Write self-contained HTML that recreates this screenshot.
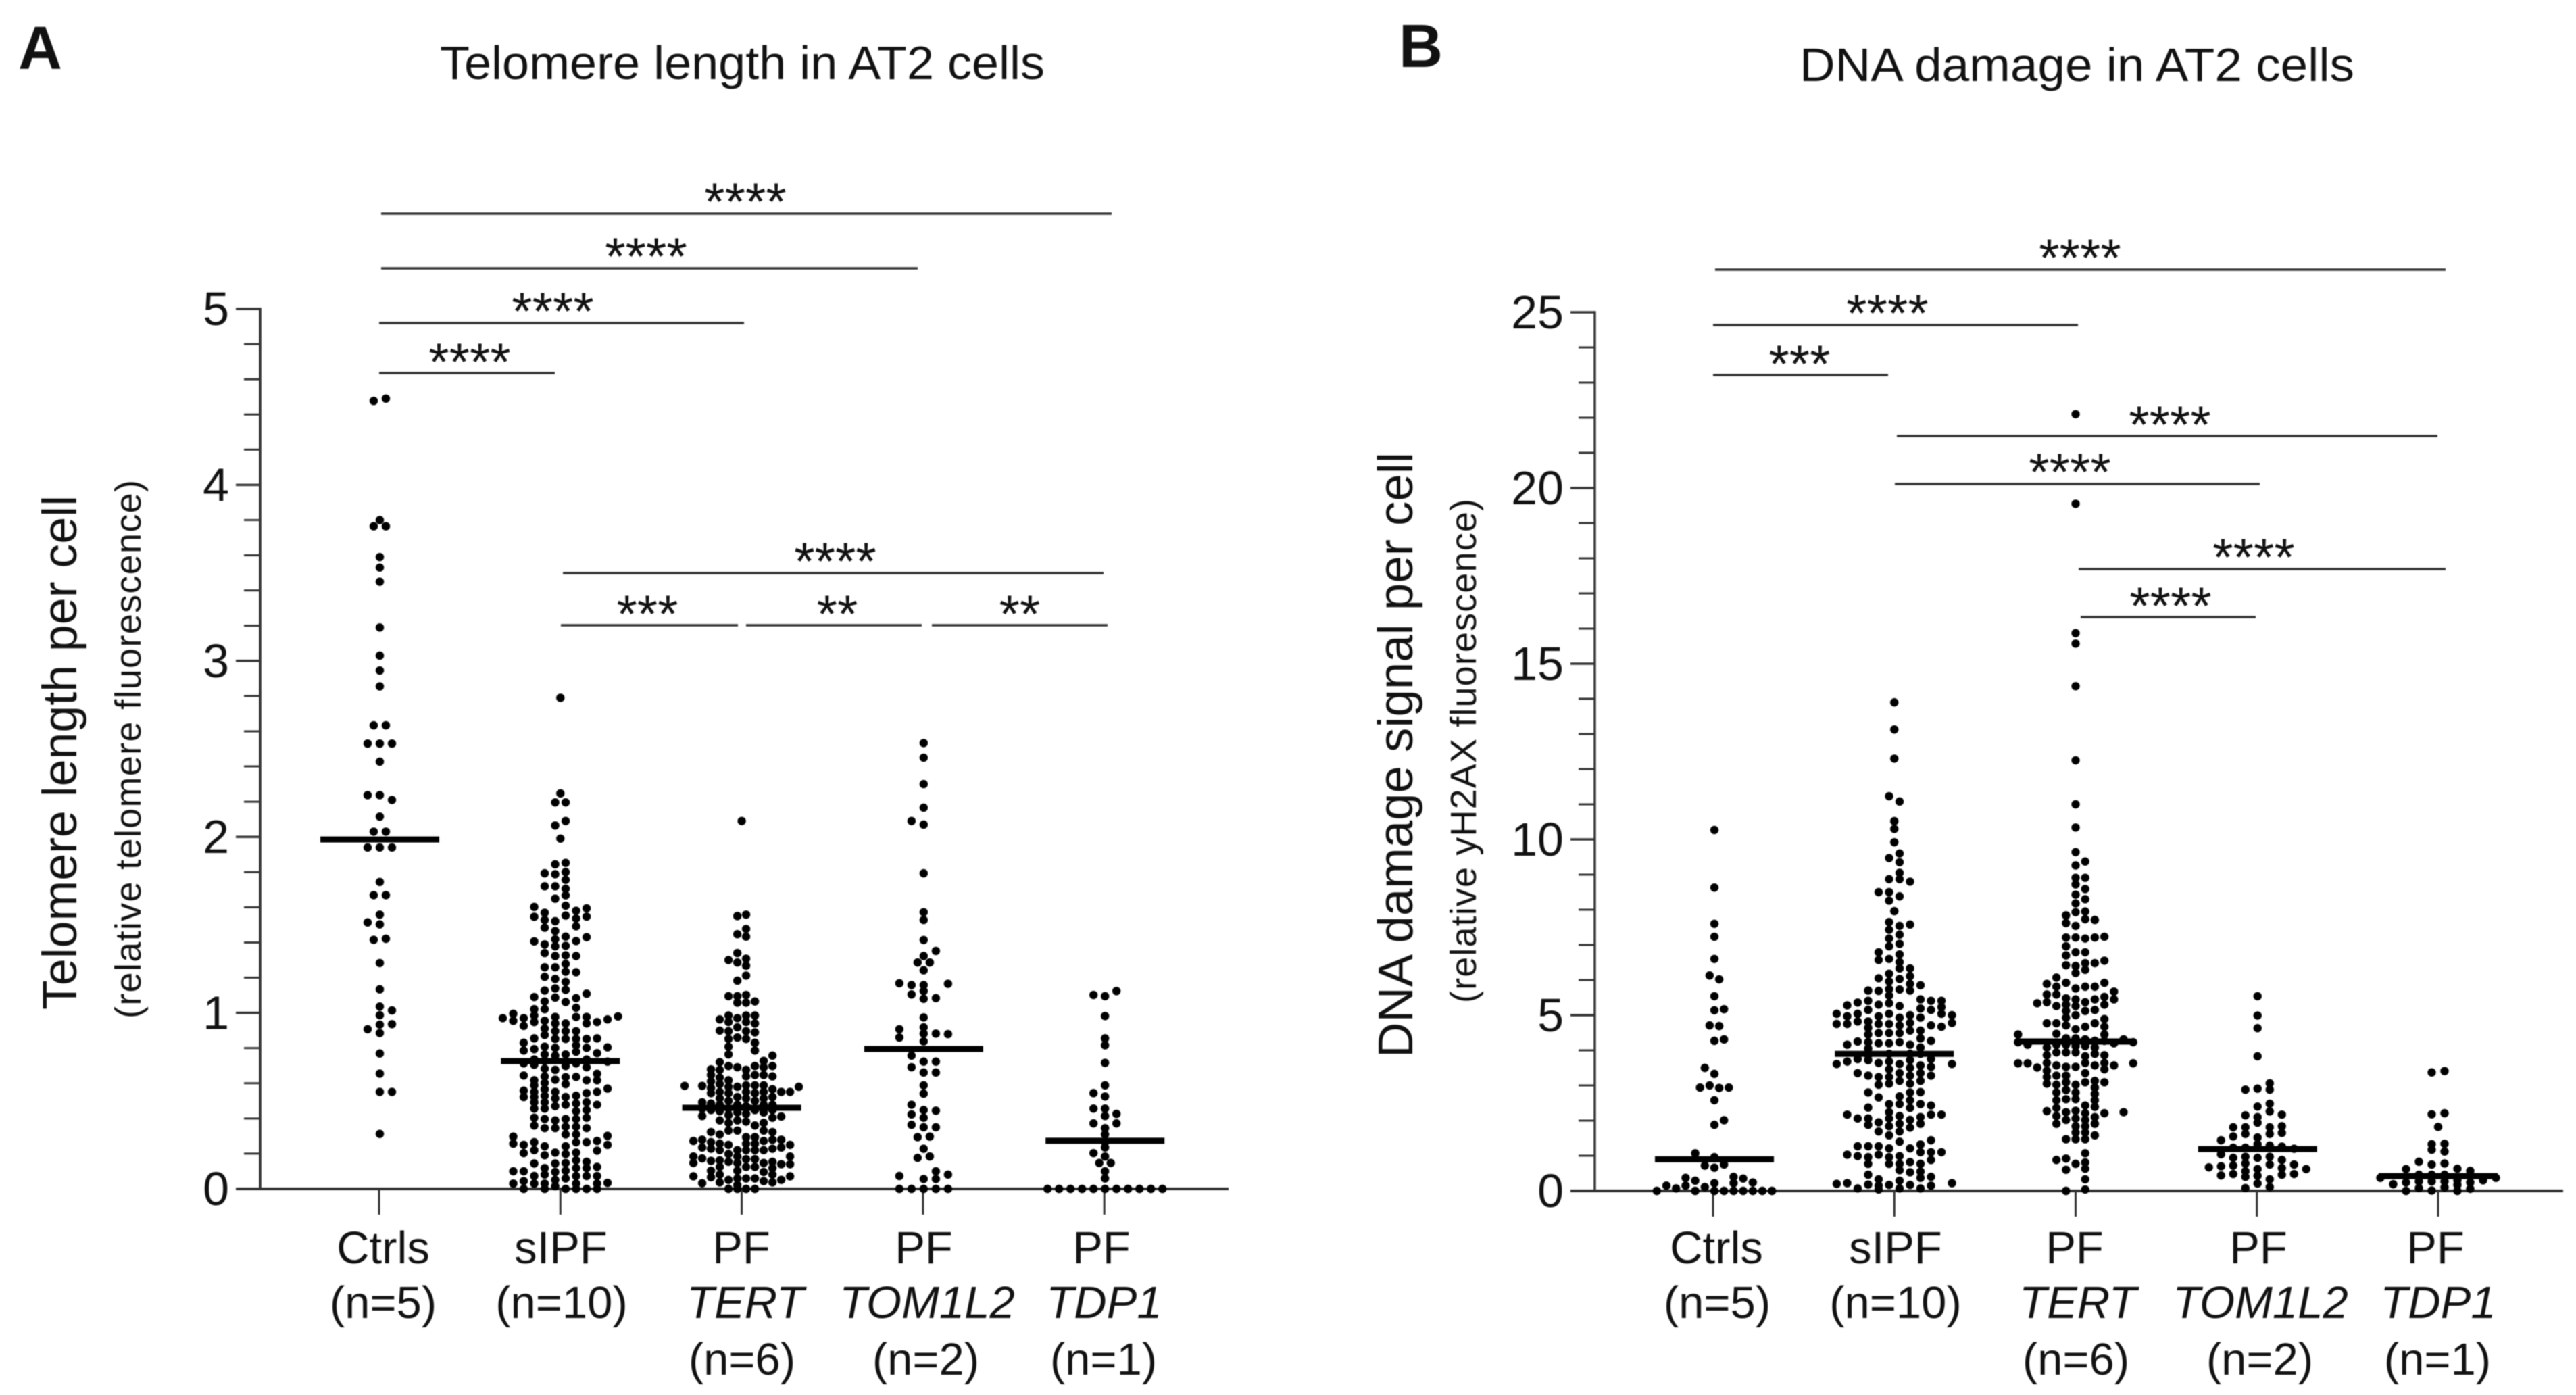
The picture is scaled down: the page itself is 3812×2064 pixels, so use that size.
<!DOCTYPE html>
<html lang="en">
<head>
<meta charset="utf-8">
<title>Telomere length and DNA damage in AT2 cells</title>
<style>
html,body{margin:0;padding:0;background:#fff;width:3812px;height:2064px;overflow:hidden}
svg{display:block;filter:blur(0.7px)}
text{font-family:"Liberation Sans",Arial,sans-serif;fill:#111}
.ttl{font-size:70px}
.tick{font-size:70px;text-anchor:end}
.cat{font-size:67px;text-anchor:middle}
.it{font-style:italic}
.star{font-size:78px;text-anchor:middle}
.pl{font-size:90px;font-weight:bold}
.br{stroke:#333;stroke-width:3.5}
</style>
</head>
<body>
<svg id="fig" xmlns="http://www.w3.org/2000/svg" width="3812" height="2064" viewBox="0 0 3812 2064">
<rect x="0" y="0" width="3812" height="2064" fill="#fff"/>

<text class="pl" x="27" y="102">A</text>
<text class="pl" x="2070" y="99">B</text>
<text class="ttl" x="651" y="117" textLength="895" lengthAdjust="spacingAndGlyphs">Telomere length in AT2 cells</text>
<text class="ttl" x="2663" y="120" textLength="821" lengthAdjust="spacingAndGlyphs">DNA damage in AT2 cells</text>

<text font-size="71" transform="translate(113,1494) rotate(-90)" textLength="761" lengthAdjust="spacingAndGlyphs">Telomere length per cell</text>
<text font-size="54" transform="translate(208,1507) rotate(-90)" textLength="797" lengthAdjust="spacing">(relative telomere fluorescence)</text>
<text font-size="72" transform="translate(2090,1565) rotate(-90)" textLength="896" lengthAdjust="spacingAndGlyphs">DNA damage signal per cell</text>
<text font-size="54" transform="translate(2184,1484) rotate(-90)" textLength="746" lengthAdjust="spacing">(relative yH2AX fluorescence)</text>

<g>
<line class="br" x1="564" x2="1645" y1="316" y2="316"/>
<text class="star" x="1103" y="325">****</text>
<line class="br" x1="564" x2="1358" y1="397" y2="397"/>
<text class="star" x="956" y="406">****</text>
<line class="br" x1="561" x2="1101" y1="478" y2="478"/>
<text class="star" x="818" y="487">****</text>
<line class="br" x1="561" x2="821" y1="552" y2="552"/>
<text class="star" x="695" y="562">****</text>
<line class="br" x1="833" x2="1633" y1="848" y2="848"/>
<text class="star" x="1236" y="857">****</text>
<line class="br" x1="830" x2="1092" y1="925" y2="925"/>
<text class="star" x="958" y="935">***</text>
<line class="br" x1="1104" x2="1364" y1="925" y2="925"/>
<text class="star" x="1239" y="935">**</text>
<line class="br" x1="1379" x2="1639" y1="925" y2="925"/>
<text class="star" x="1509" y="935">**</text>
</g>

<g>
<line class="br" x1="2538" x2="3619" y1="399" y2="399"/>
<text class="star" x="3078" y="408">****</text>
<line class="br" x1="2535" x2="3075" y1="481" y2="481"/>
<text class="star" x="2793" y="490">****</text>
<line class="br" x1="2535" x2="2794" y1="555" y2="555"/>
<text class="star" x="2663" y="565">***</text>
<line class="br" x1="2807" x2="3607" y1="645" y2="645"/>
<text class="star" x="3211" y="655">****</text>
<line class="br" x1="2804" x2="3344" y1="716" y2="716"/>
<text class="star" x="3063" y="725">****</text>
<line class="br" x1="3076" x2="3619" y1="842" y2="842"/>
<text class="star" x="3335" y="851">****</text>
<line class="br" x1="3079" x2="3338" y1="913" y2="913"/>
<text class="star" x="3212" y="923">****</text>
</g>

<g>
<text class="cat" x="567" y="1869">Ctrls</text>
<text class="cat" x="567" y="1950">(n=5)</text>
<text class="cat" x="830" y="1869">sIPF</text>
<text class="cat" x="831" y="1950">(n=10)</text>
<text class="cat" x="1097" y="1869">PF</text>
<text class="cat it" x="1103" y="1950">TERT</text>
<text class="cat" x="1098" y="2034">(n=6)</text>
<text class="cat" x="1367" y="1869">PF</text>
<text class="cat it" x="1372" y="1950">TOM1L2</text>
<text class="cat" x="1370" y="2034">(n=2)</text>
<text class="cat" x="1630" y="1869">PF</text>
<text class="cat it" x="1634" y="1950">TDP1</text>
<text class="cat" x="1633" y="2034">(n=1)</text>
</g>

<g>
<text class="cat" x="2540" y="1869">Ctrls</text>
<text class="cat" x="2541" y="1950">(n=5)</text>
<text class="cat" x="2805" y="1869">sIPF</text>
<text class="cat" x="2805" y="1950">(n=10)</text>
<text class="cat" x="3070" y="1869">PF</text>
<text class="cat it" x="3075" y="1950">TERT</text>
<text class="cat" x="3072" y="2034">(n=6)</text>
<text class="cat" x="3342" y="1869">PF</text>
<text class="cat it" x="3345" y="1950">TOM1L2</text>
<text class="cat" x="3344" y="2034">(n=2)</text>
<text class="cat" x="3604" y="1869">PF</text>
<text class="cat it" x="3608" y="1950">TDP1</text>
<text class="cat" x="3607" y="2034">(n=1)</text>
</g>
</svg>

<script>
// Swarm lanes: key = lane number from the group centre, value = y-values.
const categoriesA = ["Ctrls","sIPF","TERT","TOM1L2","TDP1"];
const categoriesB = ["Ctrls","sIPF","TERT","TOM1L2","TDP1"];
const yTicksA = [0,1,2,3,4,5];
const yTicksB = [0,5,10,15,20,25];
const mediansA = [1.985,0.726,0.461,0.795,0.273];
const mediansB = [0.90,3.90,4.25,1.19,0.42];

const aCtrls = {
"-1":[2.53,2.237,1.94,1.514,0.907],
"-0.5":[4.477,3.765,2.634,2.03,1.669,1.415],
"0":[3.80,3.59,3.53,3.45,3.19,3.03,2.945,2.855,2.53,2.427,2.237,2.115,1.94,1.744,1.558,1.503,1.283,1.134,1.036,0.987,0.933,0.885,0.769,0.655,0.551,0.312],
"0.5":[4.49,3.765,2.634,2.03,1.669,1.421],
"1":[2.53,2.21,1.94,1.014,0.936,0.551]
};
const aSipf = {
"-5.5":[0.97],
"-4.5":[0.995,0.955,0.297,0.257,0.10,0.03],
"-3.5":[0.97,0.926,0.83,0.786,0.713,0.644,0.558,0.522,0.25,0.203,0.10,0.044,0],
"-2.5":[1.602,1.546,1.406,1.09,1.021,0.985,0.948,0.855,0.794,0.735,0.705,0.617,0.588,0.551,0.522,0.492,0.456,0.404,0.36,0.265,0.22,0.144,0.073,0.03],
"-1.5":[1.793,1.719,1.569,1.528,1.484,1.389,1.34,1.259,1.205,1.127,1.065,1.021,0.955,0.911,0.874,0.808,0.764,0.727,0.683,0.639,0.602,0.566,0.529,0.492,0.456,0.397,0.345,0.242,0.191,0.118,0.081,0.03,0],
"-0.5":[2.196,2.065,1.844,1.788,1.719,1.649,1.521,1.465,1.418,1.378,1.323,1.259,1.193,1.139,1.087,0.977,0.94,0.896,0.852,0.801,0.757,0.676,0.62,0.551,0.514,0.47,0.389,0.345,0.206,0.144,0.096,0.051,0.015],
"0":[2.79,2.247,1.99],
"0.5":[2.196,2.09,1.852,1.8,1.756,1.705,1.668,1.609,1.553,1.433,1.381,1.327,1.278,1.234,1.176,1.131,1.062,0.94,0.896,0.852,0.764,0.698,0.635,0.595,0.522,0.478,0.397,0.353,0.309,0.242,0.198,0.147,0.103,0.059,0],
"1.5":[1.58,1.536,1.492,1.408,1.323,1.231,1.084,1.029,0.977,0.896,0.852,0.816,0.779,0.713,0.636,0.529,0.485,0.441,0.397,0.353,0.309,0.265,0.206,0.162,0.118,0.073,0.03,0],
"2.5":[1.594,1.547,1.43,1.109,0.977,0.94,0.852,0.801,0.735,0.691,0.617,0.544,0.492,0.448,0.404,0.345,0.265,0.154,0.118,0.073,0],
"3.5":[0.948,0.855,0.771,0.654,0.617,0.551,0.478,0.272,0.217,0.125,0.073,0.03,0],
"4.5":[0.963,0.804,0.723,0.57,0.301,0.25,0.034],
"5.5":[0.98]
};
const aTert = {
"-6.5":[0.585],
"-5.5":[0.272,0.184,0.147,0.071],
"-4.5":[0.585,0.492,0.456,0.414,0.279,0.235,0.173,0.032],
"-3.5":[0.679,0.647,0.61,0.573,0.544,0.485,0.448,0.323,0.265,0.228,0.159,0.103,0.066],
"-2.5":[0.963,0.899,0.72,0.676,0.632,0.595,0.551,0.514,0.478,0.441,0.389,0.309,0.257,0.22,0.162,0.125,0.081,0.037],
"-1.5":[1.30,1.095,0.985,0.948,0.896,0.852,0.808,0.764,0.698,0.617,0.58,0.544,0.5,0.456,0.419,0.375,0.331,0.25,0.198,0.154,0.051,0],
"-0.5":[1.55,1.447,1.34,1.286,1.183,1.095,1.058,0.97,0.918,0.86,0.691,0.58,0.522,0.478,0.434,0.389,0.331,0.22,0.184,0.147,0.103,0.059,0.022,0],
"0":[2.09],
"0.5":[1.558,1.477,1.433,1.308,1.268,1.212,1.102,1.058,0.985,0.948,0.896,0.852,0.676,0.639,0.588,0.551,0.514,0.47,0.426,0.382,0.294,0.257,0.22,0.169,0.125,0.059,0],
"1.5":[1.065,0.985,0.94,0.889,0.83,0.786,0.698,0.647,0.588,0.544,0.5,0.448,0.36,0.294,0.257,0.22,0.169,0.125,0.059,0],
"2.5":[0.727,0.691,0.647,0.588,0.551,0.514,0.478,0.434,0.375,0.331,0.272,0.22,0.147,0.096,0.044],
"3.5":[0.757,0.698,0.639,0.566,0.522,0.478,0.448,0.404,0.323,0.279,0.228,0.154,0.118,0.081,0.037],
"4.5":[0.551,0.411,0.279,0.235,0.14,0.051],
"5.5":[0.551,0.25,0.184,0.14,0.071],
"6.5":[0.58]
};
const aTom = {
"-2":[1.168,0.907,0.86,0.073,0],
"-1":[2.09,1.158,1.105,0.757,0.691,0.478,0.423,0.364,0],
"-0.5":[1.286,0.294,0.176],
"0":[2.533,2.45,2.30,2.166,2.07,1.793,1.572,1.528,1.414,1.323,1.242,1.158,1.124,1.08,0.974,0.918,0.882,0.838,0.723,0.661,0.588,0.541,0.448,0.404,0.35,0.228,0.056,0],
"0.5":[1.286,0.297,0.184],
"1":[1.352,1.084,0.882,0.723,0.661,0.444,0.35,0.10,0.056,0],
"2":[1.165,0.879,0.081,0]
};
const aTdp = {
"-5":[0],"-4":[0],"-3":[0],"-2":[0],
"-1":[1.102,0.544,0.456,0.372,0.203,0],
"-0.5":[0.147],
"0":[1.095,0.982,0.855,0.816,0.716,0.588,0.525,0.456,0.414,0.345,0.309,0.265,0.235,0.184,0.10,0.059,0],
"0.5":[0.147],
"1":[1.124,0.426,0.372,0],
"2":[0],"3":[0],"4":[0],"5":[0]
};
const bCtrls = {
"-6":[0],
"-5":[0.15],
"-4":[0.07],
"-3":[0.37,0.15],
"-2":[1.07,0.29,0],
"-1.5":[2.94],
"-1":[3.5,0.72,0.11],
"-0.5":[6.13,4.71,3.0],
"0":[10.27,8.63,7.6,7.23,6.6,5.54,5.14,4.27,3.33,2.58,1.88,0.96,0.66,0.22,0],
"0.5":[6.02,4.69,2.93],
"1":[5.17,4.31,2.01,0.75,0],
"1.5":[2.94],
"2":[0.4,0.22,0],
"3":[0.35,0],
"4":[0.24,0],
"5":[0],
"6":[0]
};
const bSipf = {
"-5.5":[5.04,4.75,3.61,0.2],
"-4.5":[5.28,4.97,4.75,4.16,3.68,2.17,1.03,0.22],
"-3.5":[5.36,5.04,4.82,4.25,3.75,3.35,2.06,1.27,0.99,0.07],
"-2.5":[5.7,5.41,5.15,4.82,4.64,4.45,4.23,4.05,3.86,3.72,3.28,2.8,2.37,2.06,1.88,1.27,0.96,0.77,0.46,0.18],
"-1.5":[8.5,6.79,6.57,6.05,5.69,5.3,4.97,4.75,4.49,4.2,3.64,3.24,3.02,2.66,1.95,1.69,1.27,1.03,0.33,0.15,0.04],
"-0.5":[11.23,9.47,8.87,8.5,8.26,7.65,7.43,7.18,6.96,6.6,6.18,5.96,5.74,5.56,5.34,5.04,4.75,4.49,4.2,3.9,3.68,3.46,3.24,3.05,2.47,2.24,2.06,1.84,1.58,1.21,0.96,0.77,0.17],
"0":[13.9,13.13,12.3,10.52,10.3,9.92,7.96],
"0.5":[11.08,9.6,9.35,9.05,8.87,8.38,7.54,7.29,7.03,6.73,6.51,6.33,6.03,5.73,5.26,4.93,4.71,4.49,4.23,3.61,3.35,3.13,2.69,2.47,2.13,1.91,1.69,1.4,0.99,0.77,0.59,0.29,0.07],
"1.5":[8.8,7.58,6.33,6.11,5.89,5.7,5.0,4.78,4.56,4.16,3.9,3.72,3.5,3.28,3.05,2.8,2.58,2.36,2.02,1.8,1.21,0.82,0.53,0.17],
"2.5":[5.85,5.45,5.19,4.93,4.56,4.34,4.08,3.9,3.57,3.35,3.13,2.81,2.47,2.1,1.91,1.32,1.1,0.77,0.55,0.37,0.07],
"3.5":[5.41,5.15,4.71,4.27,3.75,3.53,3.28,2.43,2.17,1.44,1.1,0.88,0.4,0.15],
"4.5":[5.41,5.23,5.04,4.67,2.17,1.1],
"5.5":[5.0,4.78,3.61,0.22]
};
const bTert = {
"-6":[4.45,4.23,3.63],
"-5":[4.16,3.63],
"-4":[5.34,3.51],
"-3":[5.89,5.59,5.37,4.77,4.08,3.86,3.64,3.42,3.24,3.05,2.27],
"-2":[6.07,5.81,5.59,5.26,4.77,4.47,4.16,3.94,3.57,3.28,3.02,2.8,2.58,2.36,2.13,1.91,0.88],
"-1":[7.84,7.62,7.21,6.96,6.7,6.42,5.92,5.48,5.3,5.12,4.93,4.71,4.34,4.16,3.94,3.53,3.28,3.09,2.87,2.61,2.24,2.02,1.47,0.92,0.6,0],
"0":[22.1,19.55,15.87,15.57,14.36,12.25,11.0,10.34,9.64,9.26,8.91,8.72,8.43,8.18,7.93,7.54,7.21,6.79,6.4,6.2,5.76,5.45,5.26,5.0,4.6,4.34,4.12,3.94,3.53,3.02,2.8,2.61,2.28,2.06,1.84,1.66,1.47,0.77],
"1":[9.37,8.91,8.59,8.3,7.95,7.73,7.18,6.79,6.48,6.29,5.81,5.37,5.12,4.67,4.31,4.12,3.83,3.64,3.35,3.09,2.43,2.21,2.02,1.84,1.66,1.47,1.07,0.81,0.63,0.33,0.04],
"2":[7.71,7.21,6.48,5.81,5.45,5.15,4.77,4.27,4.08,3.9,3.57,3.13,2.94,2.76,2.58,2.39,2.1,1.91,1.58],
"3":[7.23,6.55,5.92,5.52,5.3,4.89,4.67,4.45,4.27,3.86,3.64,3.46,3.09,2.21],
"4":[5.67,5.45,4.2,3.57],
"5":[4.31,2.24],
"6":[4.23,3.63]
};
const bTom = {
"-4":[0.67],
"-3":[1.44,1.04,0.7,0.44],
"-2":[1.81,1.55,1.23,0.94,0.72,0.48],
"-1":[2.88,2.15,1.81,1.62,1.23,0.97,0.78,0.56,0.4,0.08],
"0":[5.54,4.99,4.63,3.83,2.91,2.4,2.1,1.94,1.52,1.33,0.94,0.62,0.43,0.21],
"1":[3.06,2.88,2.48,2.26,1.81,1.62,1.29,0.97,0.75,0.33,0.11],
"2":[2.17,1.84,1.65,1.26,0.88,0.65,0.46],
"3":[1.2,0.75,0.48],
"4":[0.62]
};
const bTdp = {
"-4.5":[0.37],
"-3.5":[0.19],
"-2.5":[0.62,0.24,0],
"-1.5":[0.83,0.46,0.27,0.08],
"-0.5":[3.37,2.18,1.33,1.17,0.75,0.46,0.27,0.01],
"0":[1.82],
"0.5":[3.41,2.21,1.34,1.12,0.78,0.46,0.27,0.1],
"1.5":[0.63,0.3,0.17,0],
"2.5":[0.57,0.24,0.06],
"3.5":[0.3],
"4.5":[0.37]
};
const groupsA = [aCtrls,aSipf,aTert,aTom,aTdp];
const groupsB = [bCtrls,bSipf,bTert,bTom,bTdp];

const NS = "http://www.w3.org/2000/svg";
const fig = document.getElementById("fig");

function make(tag, attrs, parent) {
  const el = document.createElementNS(NS, tag);
  for (const k in attrs) el.setAttribute(k, attrs[k]);
  parent.appendChild(el);
  return el;
}

function drawPanel(p) {
  const g = make("g", {}, fig);
  
  
  const yMax = p.ticks[p.ticks.length - 1];
  const y = v => p.y0 + (p.yTop - p.y0) * v / yMax;
  const x = i => p.x0 + i * p.step;
  const AX = "#333";

  // y axis
  const yAxis = make("line", {x1:p.axisX, x2:p.axisX, y1:y(yMax)-1.7, y2:y(0), stroke:AX, "stroke-width":3.5}, g);
  
  

  const tickStep = p.ticks[1] - p.ticks[0];
  for (let t = 0; t < p.ticks.length; t++) {
    const val = p.ticks[t];
    const maj = make("line", {x1:p.axisX-36, x2:p.axisX, y1:y(val), y2:y(val), stroke:AX, "stroke-width":3.5}, g);
    
    
    const lab = make("text", {x:p.axisX-46, y:y(val)+24, class:"tick"}, g);
    
    
    lab.textContent = val;
    if (t < p.ticks.length - 1) {
      for (let m = 1; m < 5; m++) {
        const mv = val + tickStep * m / 5;
        const mn = make("line", {x1:p.axisX-24, x2:p.axisX, y1:y(mv), y2:y(mv), stroke:AX, "stroke-width":3}, g);
        
        
      }
    }
  }

  // x axis
  const xAxis = make("line", {x1:p.axisX-36, x2:p.axisEnd, y1:y(0), y2:y(0), stroke:AX, "stroke-width":4}, g);
  
  

  for (let i = 0; i < p.categories.length; i++) {
    const tk = make("line", {x1:x(i), x2:x(i), y1:y(0), y2:y(0)+38, stroke:AX, "stroke-width":3}, g);
    
    

    const lanes = p.groups[i];
    for (const lane in lanes) {
      const vals = lanes[lane];
      for (let k = 0; k < vals.length; k++) {
        const c = make("circle", {cx:x(i) + p.centerShift[i] + parseFloat(lane) * p.spacing[i], cy:y(vals[k]), r:6.2, fill:"#000"}, g);
        
        
      }
    }

    const med = make("line", {x1:x(i)+p.centerShift[i]-88, x2:x(i)+p.centerShift[i]+88, y1:y(p.medians[i]), y2:y(p.medians[i]), stroke:"#000", "stroke-width":9}, g);
    
    
  }
}

drawPanel({id:"panel-a", categories:categoriesA, ticks:yTicksA, medians:mediansA, groups:groupsA,
  axisX:385, axisEnd:1818, y0:1759, yTop:457, x0:561, step:268.3,
  spacing:[18,15.5,13,18,17], centerShift:[1,0,0,1,1]});
drawPanel({id:"panel-b", categories:categoriesB, ticks:yTicksB, medians:mediansB, groups:groupsB,
  axisX:2360, axisEnd:3793, y0:1762, yTop:462, x0:2535, step:268.25,
  spacing:[14.2,15.5,14.2,18,19], centerShift:[2,0,0,1,0]});
</script>
</body>
</html>
